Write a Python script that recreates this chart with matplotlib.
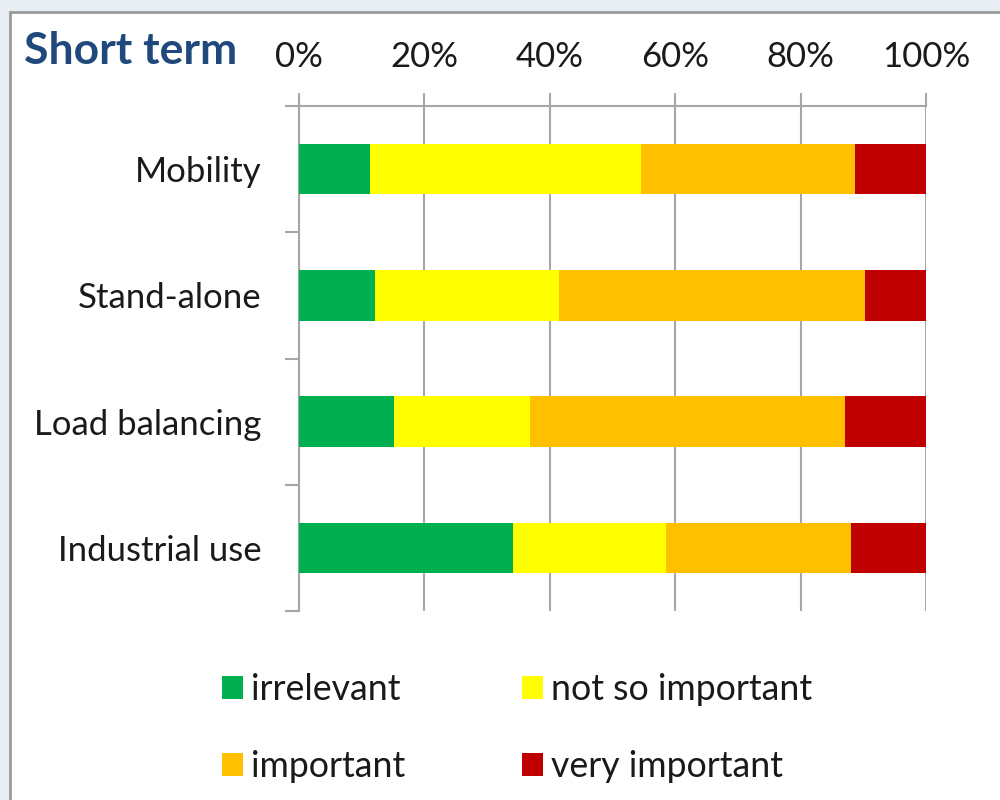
import matplotlib
matplotlib.use("Agg")
import matplotlib.pyplot as plt
from matplotlib.patches import Rectangle, Patch
from matplotlib.ticker import FixedLocator, PercentFormatter

categories = ["Mobility", "Stand-alone", "Load balancing", "Industrial use"]
series_names = ["irrelevant", "not so important", "important", "very important"]
irrelevant = [11.4, 12.2, 15.1, 34.2]
not_so_important = [43.1, 29.3, 21.7, 24.3]
important = [34.1, 48.8, 50.3, 29.5]
very_important = [11.4, 9.7, 12.9, 12.0]
x_ticks = [0, 20, 40, 60, 80, 100]
title = "Short term"

colors = ["#00B050", "#FFFF00", "#FFC000", "#C00000"]
grid_col = "#A6A6A6"
txt_col = "#1a1a1a"
FONT = ["Lato", "DejaVu Sans"]
plt.rcParams["font.family"] = FONT

fig = plt.figure(figsize=(10, 8), dpi=100)
fig.patch.set_facecolor("#E9EDF4")
# white chart panel with border
fig.patches.append(Rectangle((10/1000, -0.05), 1.0, 0.985 + 0.05, transform=fig.transFigure,
                             facecolor="white", edgecolor="#9a9a9a", linewidth=2, zorder=-10))

ax = fig.add_axes([0.299, 1 - 611/800, 0.627, (611 - 106)/800])
ax.set_facecolor("none")

series = [irrelevant, not_so_important, important, very_important]
ypos = list(range(len(categories)))
left = [0.0] * len(categories)
handles = []
for vals, name, c in zip(series, series_names, colors):
    ax.barh(ypos, vals, left=left, height=0.4, color=c, label=name, zorder=3, linewidth=0)
    left = [l + v for l, v in zip(left, vals)]
    handles.append(Patch(facecolor=c, label=name))

ax.set_xlim(0, 100)
ax.set_ylim(len(categories) - 0.5, -0.5)

ax.xaxis.tick_top()
ax.xaxis.set_major_locator(FixedLocator(x_ticks))
ax.xaxis.set_major_formatter(PercentFormatter(decimals=0))
ax.tick_params(axis="x", which="major", direction="out", length=9.5, width=1.5,
               color=grid_col, labelsize=25, labelcolor=txt_col, pad=14)
ax.grid(axis="x", color=grid_col, linewidth=1.5, zorder=0)

ax.set_yticks(ypos)
ax.set_yticklabels(categories)
ax.set_yticks([y - 0.5 for y in ypos] + [len(categories) - 0.5], minor=True)
ax.tick_params(axis="y", which="major", length=0, labelsize=25, labelcolor=txt_col, pad=27)
ax.tick_params(axis="y", which="minor", direction="out", length=10, width=1.5, color=grid_col)

for s in ["right", "bottom"]:
    ax.spines[s].set_visible(False)
for s in ["left", "top"]:
    ax.spines[s].set_color(grid_col)
    ax.spines[s].set_linewidth(1.5)

fig.text(24/1000, 1 - 51/800, title, fontsize=32, fontweight="bold", color="#1F497D",
         ha="left", va="center")

order = [0, 2, 1, 3]
leg = fig.legend([handles[i] for i in order], [series_names[i] for i in order],
                 ncol=2, loc="upper left", bbox_to_anchor=(222/1000, 1 - 673/800),
                 frameon=False, fontsize=25.7, handlelength=0.6, handleheight=0.6,
                 handletextpad=0.22, columnspacing=3.25, labelspacing=1.24,
                 borderaxespad=0, borderpad=0)
for t in leg.get_texts():
    t.set_color(txt_col)

fig.savefig("out.png", dpi=100, facecolor=fig.get_facecolor())
